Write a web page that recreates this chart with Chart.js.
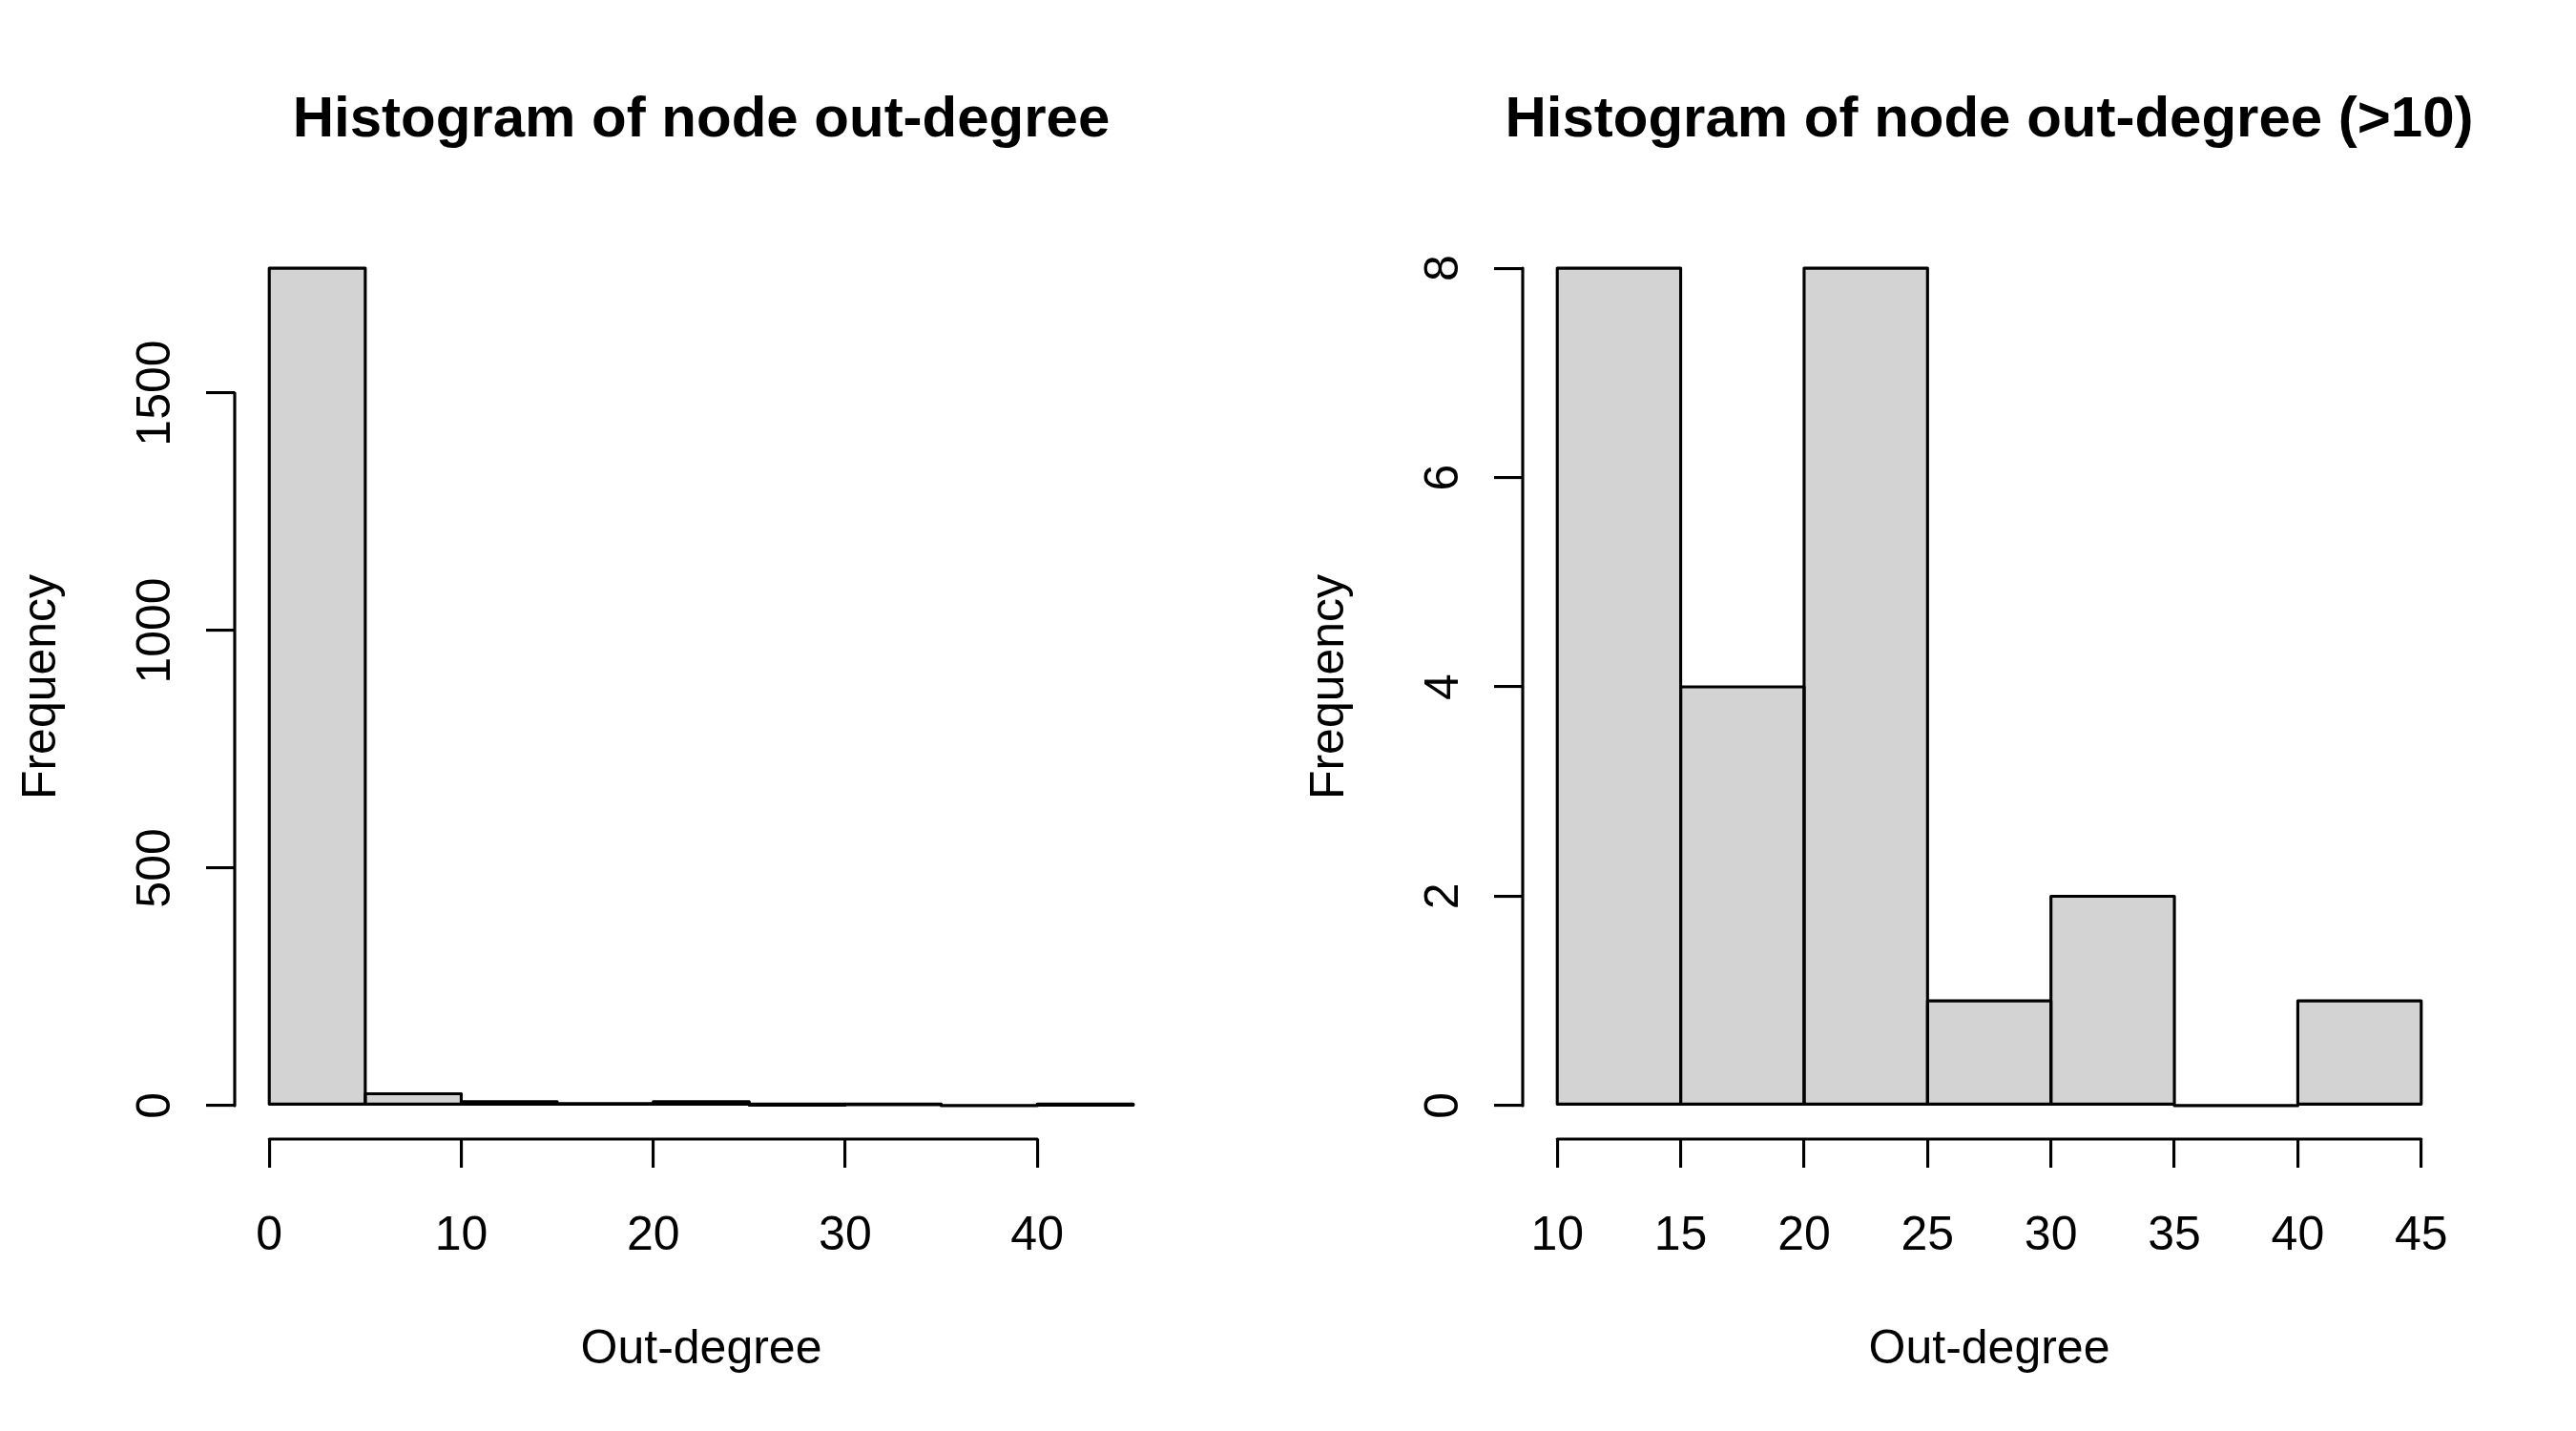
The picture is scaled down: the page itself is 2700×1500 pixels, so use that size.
<!DOCTYPE html>
<html>
<head>
<meta charset="utf-8">
<script src="https://cdn.jsdelivr.net/npm/chart.js@4/dist/chart.umd.min.js"></script>
<style>
  html, body { margin: 0; padding: 0; background: #ffffff; overflow: hidden; }
  #wrap { position: relative; width: 2700px; height: 1500px; overflow: hidden; background: #ffffff; }
  canvas { position: absolute; top: 0; }
</style>
</head>
<body>
<div id="wrap">
  <canvas id="c1" width="1470" height="1500" style="left:0px;width:1470px;height:1500px"></canvas>
  <canvas id="c2" width="1470" height="1500" style="left:1350px;width:1470px;height:1500px"></canvas>
</div>
<script>
// ---- data ----
const titleLeft = 'Histogram of node out-degree';
const titleRight = 'Histogram of node out-degree (>10)';
const xLabel = 'Out-degree';
const yLabel = 'Frequency';

const binEdgesLeft = [0, 5, 10, 15, 20, 25, 30, 35, 40, 45];
const countsLeft = [1763, 25, 8, 4, 8, 1, 2, 0, 1];
const xTicksLeft = [0, 10, 20, 30, 40];
const yTicksLeft = [0, 500, 1000, 1500];

const binEdgesRight = [10, 15, 20, 25, 30, 35, 40, 45];
const countsRight = [8, 4, 8, 1, 2, 0, 1];
const xTicksRight = [10, 15, 20, 25, 30, 35, 40, 45];
const yTicksRight = [0, 2, 4, 6, 8];

// ---- styling ----
const FONT = '"Liberation Sans", Arial, Helvetica, sans-serif';
const LW = 3.125;
const TICK_LEN = 30;
const BAR_FILL = '#D3D3D3';
Chart.defaults.color = '#000000';
Chart.defaults.font.family = FONT;

function measure(text, px) {
  const c = document.createElement('canvas').getContext('2d');
  c.font = px + 'px ' + FONT;
  return c.measureText(text).width;
}

const histOutline = {
  id: 'histOutline',
  afterDatasetsDraw(chart) {
    const ctx = chart.ctx;
    ctx.save();
    ctx.strokeStyle = '#000000';
    ctx.lineWidth = LW;
    ctx.lineJoin = 'round';
    chart.getDatasetMeta(0).data.forEach(el => {
      const p = el.getProps(['x', 'y', 'base', 'width'], true);
      ctx.beginPath();
      ctx.rect(p.x - p.width / 2, p.y, p.width, p.base - p.y);
      ctx.stroke();
    });
    ctx.restore();
  }
};

const rAxes = {
  id: 'rAxes',
  afterDraw(chart) {
    const { ctx, chartArea, scales } = chart;
    const xs = scales.x, ys = scales.y;
    const xt = xs.ticks, yt = ys.ticks;
    ctx.save();
    ctx.strokeStyle = '#000000';
    ctx.lineWidth = LW;
    ctx.lineCap = 'round';
    ctx.beginPath();
    ctx.moveTo(xs.getPixelForValue(xt[0].value), chartArea.bottom);
    ctx.lineTo(xs.getPixelForValue(xt[xt.length - 1].value), chartArea.bottom);
    ctx.moveTo(chartArea.left, ys.getPixelForValue(yt[0].value));
    ctx.lineTo(chartArea.left, ys.getPixelForValue(yt[yt.length - 1].value));
    ctx.stroke();
    ctx.restore();
  }
};

function makeHist(canvasId, title, edges, counts, xTicks, yTicks) {
  const points = counts.map((c, i) => ({ x: (edges[i] + edges[i + 1]) / 2, y: c }));
  const xMin = edges[0], xMax = edges[edges.length - 1];
  const xr = xMax - xMin;
  const yMax = Math.max(...counts);
  const widest = Math.max(...yTicks.map(v => measure(String(v), 50)));
  const yPad = 246 - TICK_LEN - 164.4 - widest / 2;

  return new Chart(document.getElementById(canvasId), {
    type: 'bar',
    data: {
      datasets: [{
        data: points,
        backgroundColor: BAR_FILL,
        borderWidth: 0,
        barPercentage: 1.0,
        categoryPercentage: 1.0,
        xAxisID: 'x',
        yAxisID: 'y'
      }]
    },
    plugins: [histOutline, rAxes],
    options: {
      responsive: false,
      animation: false,
      devicePixelRatio: 1,
      layout: { padding: { left: 0, right: 0, top: 0, bottom: 0 } },
      plugins: {
        legend: { display: false },
        tooltip: { enabled: false },
        title: {
          display: true,
          text: title,
          color: '#000000',
          font: { family: FONT, size: 60, weight: 'bold', lineHeight: 1.2 },
          padding: { top: 90.5, bottom: 83.5 }
        }
      },
      scales: {
        x: {
          type: 'linear',
          offset: false,
          min: xMin - 0.04 * xr,
          max: xMax + 0.04 * xr,
          afterBuildTicks: s => { s.ticks = xTicks.map(v => ({ value: v })); },
          afterFit: s => { s.height = 306; },
          border: { display: false },
          grid: {
            offset: false,
            drawOnChartArea: false,
            drawTicks: true,
            tickLength: TICK_LEN,
            color: '#000000',
            lineWidth: LW
          },
          ticks: {
            autoSkip: false,
            maxRotation: 0,
            minRotation: 0,
            padding: 42,
            color: '#000000',
            font: { family: FONT, size: 50, lineHeight: 1.2 },
            callback: v => String(v)
          },
          title: {
            display: true,
            text: xLabel,
            color: '#000000',
            font: { family: FONT, size: 50, lineHeight: 1.2 },
            padding: { top: 0, bottom: 54.3 }
          }
        },
        y: {
          type: 'linear',
          position: 'left',
          min: -0.04 * yMax,
          max: 1.04 * yMax,
          afterBuildTicks: s => { s.ticks = yTicks.map(v => ({ value: v })); },
          afterFit: s => { s.width = 246; },
          border: { display: false },
          grid: {
            drawOnChartArea: false,
            drawTicks: true,
            tickLength: TICK_LEN,
            color: '#000000',
            lineWidth: LW
          },
          ticks: {
            autoSkip: false,
            minRotation: 90,
            maxRotation: 90,
            crossAlign: 'center',
            padding: yPad,
            color: '#000000',
            font: { family: FONT, size: 50, lineHeight: 1.2 },
            callback: v => String(v)
          },
          title: {
            display: true,
            text: yLabel,
            color: '#000000',
            font: { family: FONT, size: 50, lineHeight: 1.2 },
            padding: { top: 14.5, bottom: 0 }
          }
        },
        // empty right-hand margin (R's right figure margin), keeps the title centred over the plot
        yMargin: {
          type: 'linear',
          position: 'right',
          display: true,
          afterFit: s => { s.width = 246; },
          border: { display: false },
          grid: { display: false, drawTicks: false },
          ticks: { display: false },
          title: { display: false }
        }
      }
    }
  });
}

makeHist('c1', titleLeft, binEdgesLeft, countsLeft, xTicksLeft, yTicksLeft);
makeHist('c2', titleRight, binEdgesRight, countsRight, xTicksRight, yTicksRight);
</script>
</body>
</html>
